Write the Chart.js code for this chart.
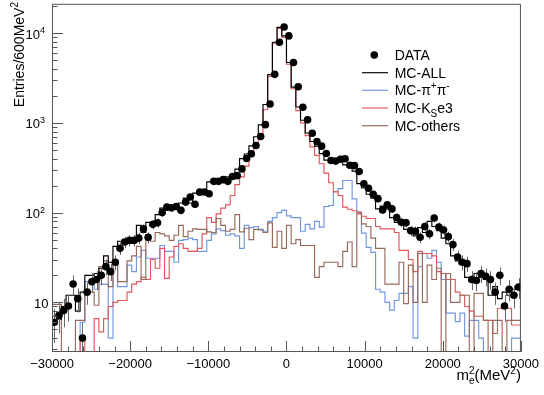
<!DOCTYPE html>
<html>
<head>
<meta charset="utf-8">
<script src="https://cdn.jsdelivr.net/npm/chart.js@4.4.1/dist/chart.umd.min.js"></script>
<style>
html, body { margin: 0; padding: 0; background: #fff; }
#c { display: block; }
</style>
</head>
<body>
<canvas id="c" width="544" height="395"></canvas>
<script>
// binning of the m_e^2 histogram: 100 bins of 600 MeV^2 from -30000 to 30000
var xLo = -30000, xHi = 30000, binW = 600, nBins = 100;

// entries per bin (left to right); 1 = below the axis
var dataVals = [
  6.0, 7.2, 8.1, 9.1, 16, 11, 4.0, 13, 17, 18,
  20, 25, 22, 28, 40, 47, 49, 49, 52, 66,
  53, 74, 77, 100, 115, 113, 117, 106, 131, 149,
  124, 169, 170, 162, 223, 223, 233, 223, 253, 258,
  307, 400, 452, 560, 705, 955, 1620, 3470, 7900, 11700,
  9300, 4700, 2520, 1490, 1080, 767, 620, 550, 455, 381,
  375, 393, 398, 337, 334, 287, 210, 187, 160, 143,
  107, 122, 110, 88, 78, 77, 63, 62, 53, 70,
  58, 87, 69, 64, 54, 44, 32, 28, 27, 18,
  17.5, 21, 19.5, 18, 13, 20, 9.1, 14, 12, 14.8
];
var mcAll = [
  7, 7, 6.5, 9, 12, 12, 8, 13, 20, 20,
  21, 24, 33, 28, 42, 48, 50, 50, 52, 72,
  60, 78, 78, 95, 112, 113, 115, 110, 128, 145,
  128, 165, 168, 165, 220, 222, 230, 225, 250, 262,
  305, 400, 450, 555, 700, 950, 1600, 3450, 7900, 11600,
  9300, 4700, 2500, 1500, 1070, 770, 620, 550, 455, 385,
  378, 395, 395, 340, 330, 290, 210, 188, 160, 145,
  110, 118, 110, 88, 78, 75, 65, 62, 55, 68,
  60, 80, 70, 63, 52, 45, 33, 29, 27, 19,
  18, 21, 19, 18, 12, 15, 11, 13, 12, 14
];
var mcPiPi = [
  4, 1, 1, 1, 1, 1, 1, 6, 17, 17,
  14, 16, 16, 4, 27, 15, 15, 26, 22, 32,
  38, 31, 31, 31, 43, 37, 37, 28, 49, 50,
  52, 50, 37, 37, 49, 58, 66, 63, 56, 58,
  55, 40, 72, 68, 70, 65, 62, 80, 88, 100,
  106, 92, 88, 88, 62, 74, 66, 80, 69, 117,
  120, 172, 185, 228, 228, 142, 102, 59, 41, 36,
  14, 13, 10, 8.2, 10.5, 12.6, 12.6, 15, 4, 25,
  35, 31, 38, 28, 18, 7.6, 7.6, 6.1, 7.6, 4.2,
  6.3, 6.3, 4, 1, 1, 1, 1, 1, 1, 4
];
var mcKse3 = [
  1, 1, 1, 1, 1, 1, 1, 3.8, 1, 1,
  6.6, 4.7, 6.6, 9, 10, 10.5, 10.5, 13, 16, 17,
  19, 18, 30, 24, 40, 18.5, 32, 42, 45, 40,
  37, 37, 40, 58, 88, 78, 97, 112, 122, 155,
  205, 250, 330, 420, 560, 760, 1400, 3300, 7700, 11300,
  9000, 4500, 2400, 1370, 1000, 720, 540, 435, 350, 275,
  215, 170, 155, 115, 109, 105, 100, 91, 86, 86,
  70, 66, 66, 66, 60, 38, 38, 30, 22, 37,
  35, 35, 33, 22, 21, 18, 18, 13, 12, 9,
  8, 7, 7, 6.3, 6.3, 4.5, 8.6, 9, 8.6, 5.6
];
var mcOthers = [
  5, 9.5, 9.5, 1, 1, 1, 6.3, 6.3, 13, 13,
  9.3, 25, 29, 15, 29, 17, 17, 29, 33, 42,
  18, 52, 48, 60, 58, 55, 49, 56, 72, 54,
  62, 66, 65, 65, 61, 60, 86, 72, 62, 65,
  95, 61, 67, 50, 65, 64, 60, 77, 41, 62,
  40, 72, 45, 50, 43, 43, 43, 19, 25, 28,
  28, 28, 25, 37, 47, 25, 97, 75, 70, 52,
  40, 40, 16, 16, 16, 28, 9.7, 26, 10, 35,
  10, 26, 18, 24, 1, 21, 10, 10, 12, 12,
  1, 12.6, 12.6, 6.3, 1, 6.3, 6.3, 1, 6.3, 6.3
];

var FONT = '"Liberation Sans", Arial, Helvetica, sans-serif';
Chart.defaults.font.family = FONT;

var colAll = '#000', colPiPi = '#7096e0', colKse3 = '#e0575e', colOthers = '#966a5a';

function binEdge(i) { return xLo + i * binW; }

// step histogram: one point per lower bin edge, plus the closing edge
function histPoints(vals) {
  var pts = vals.map(function(v, i) { return { x: binEdge(i), y: v }; });
  pts.push({ x: binEdge(nBins), y: vals[nBins - 1] });
  return pts;
}
var dataPts = dataVals.map(function(v, i) { return { x: binEdge(i) + binW / 2, y: v }; });

function histSet(label, vals, color) {
  return {
    label: label, data: histPoints(vals), borderColor: color, borderWidth: 1.15,
    stepped: 'after', pointRadius: 0, pointHitRadius: 0, fill: false, clip: 0
  };
}

// text with super/subscripts: parts = [{t, s:'sup'|'sub', stack}]
function rich(ctx, x, y, size, parts, align) {
  var sm = Math.round(size * 0.68);
  var total = 0;
  parts.forEach(function(p) {
    ctx.font = (p.s ? sm : size) + 'px ' + FONT;
    p.w = ctx.measureText(p.t).width;
    if (!p.stack) total += p.w;
  });
  var cx = align === 'right' ? x - total : x;
  ctx.textAlign = 'left';
  ctx.textBaseline = 'alphabetic';
  parts.forEach(function(p) {
    ctx.font = (p.s ? sm : size) + 'px ' + FONT;
    var dy = p.s === 'sup' ? -0.42 * size : (p.s === 'sub' ? 0.28 * size : 0);
    ctx.fillText(p.t, cx, y + dy);
    if (!p.stack) cx += p.w;
  });
}

function line(ctx, x1, y1, x2, y2) {
  ctx.beginPath(); ctx.moveTo(x1, y1); ctx.lineTo(x2, y2); ctx.stroke();
}

var rootStyle = {
  id: 'rootStyle',
  beforeDatasetDraw: function(chart, args) {
    if (args.index !== 0) return;
    // poisson error bars under the data markers
    var ctx = chart.ctx, a = chart.chartArea, xs = chart.scales.x, ys = chart.scales.y;
    ctx.save();
    ctx.beginPath(); ctx.rect(a.left, a.top, a.right - a.left, a.bottom - a.top); ctx.clip();
    ctx.strokeStyle = '#666'; ctx.lineWidth = 1;
    dataVals.forEach(function(v, i) {
      var e = Math.sqrt(v);
      var px = Math.round(xs.getPixelForValue(binEdge(i) + binW / 2)) + 0.5;
      var top = ys.getPixelForValue(v + e);
      var bot = v - e > 0 ? ys.getPixelForValue(v - e) : a.bottom;
      line(ctx, px, top, px, bot);
    });
    ctx.restore();
  },
  afterDraw: function(chart) {
    var ctx = chart.ctx, a = chart.chartArea, xs = chart.scales.x, ys = chart.scales.y;
    ctx.save();
    ctx.strokeStyle = '#555'; ctx.lineWidth = 1;
    ctx.strokeRect(a.left + 0.5, a.top + 0.5, a.right - a.left - 1, a.bottom - a.top - 1);

    // inner ticks, x axis
    for (var v = xLo; v <= xHi; v += 2000) {
      var px = Math.round(xs.getPixelForValue(v)) + 0.5;
      line(ctx, px, a.bottom, px, a.bottom - (v % 10000 === 0 ? 11 : 5.5));
    }
    // inner ticks, log y axis
    for (var k = 0; k <= 4; k++) {
      for (var m = 1; m <= 9; m++) {
        var val = m * Math.pow(10, k);
        if (val < ys.min || val > ys.max) continue;
        var py = Math.round(ys.getPixelForValue(val)) + 0.5;
        line(ctx, a.left, py, a.left + (m === 1 ? 11 : 5.5), py);
      }
    }

    // y labels 10, 10^2, 10^3, 10^4
    ctx.fillStyle = '#000';
    for (var e = 1; e <= 4; e++) {
      var yy = ys.getPixelForValue(Math.pow(10, e));
      if (e === 1) {
        rich(ctx, 48.5, yy + 5.5, 13, [{ t: '10' }], 'right');
      } else {
        rich(ctx, 45, yy + 5.5, 13, [{ t: '10' }, { t: String(e), s: 'sup' }], 'right');
      }
    }

    // axis titles
    rich(ctx, a.right, 380, 15, [
      { t: 'm' }, { t: '2', s: 'sup', stack: true }, { t: 'e', s: 'sub' },
      { t: '(MeV' }, { t: '2', s: 'sup' }, { t: ')' }
    ], 'right');
    ctx.save();
    ctx.translate(23.5, 2);
    ctx.rotate(-Math.PI / 2);
    rich(ctx, 0, 0, 14, [{ t: 'Entries/600MeV' }, { t: '2', s: 'sup' }], 'right');
    ctx.restore();

    // legend
    var lx = 394.7;
    ctx.beginPath(); ctx.arc(374.3, 55, 3.8, 0, Math.PI * 2); ctx.fill();
    rich(ctx, lx, 60, 14, [{ t: 'DATA' }], 'left');
    var rows = [
      { y: 72.7, c: colAll, parts: [{ t: 'MC-ALL' }] },
      { y: 90.3, c: colPiPi, parts: [{ t: 'MC-\u03c0' }, { t: '+', s: 'sup' }, { t: '\u03c0' }, { t: '-', s: 'sup' }] },
      { y: 108, c: colKse3, parts: [{ t: 'MC-K' }, { t: 'S', s: 'sub' }, { t: 'e3' }] },
      { y: 125.7, c: colOthers, parts: [{ t: 'MC-others' }] }
    ];
    rows.forEach(function(r) {
      ctx.strokeStyle = r.c; ctx.lineWidth = 1.15;
      line(ctx, 362, r.y, 388, r.y);
      ctx.fillStyle = '#000';
      rich(ctx, lx, r.y + 5, 14, r.parts, 'left');
    });
    ctx.restore();
  }
};

var ctxHist = document.getElementById('c').getContext('2d');
window.histChart = new Chart(ctxHist, {
  type: 'line',
  data: {
    datasets: [
      {
        type: 'scatter', label: 'DATA', data: dataPts, showLine: false,
        pointRadius: 3.8, pointHoverRadius: 3.8, pointBackgroundColor: '#000', pointBorderWidth: 0
      },
      histSet('MC-ALL', mcAll, colAll),
      histSet('MC-others', mcOthers, colOthers),
      histSet('MC-Kse3', mcKse3, colKse3),
      histSet('MC-pipi', mcPiPi, colPiPi)
    ]
  },
  options: {
    responsive: false,
    animation: false,
    devicePixelRatio: 1,
    layout: { padding: { top: 3, right: 22, left: 0, bottom: 0 } },
    plugins: { legend: { display: false }, tooltip: { enabled: false } },
    scales: {
      x: {
        type: 'linear', min: xLo, max: xHi,
        grid: { display: false, drawTicks: false },
        border: { display: false },
        ticks: {
          stepSize: 10000, color: '#000', font: { size: 13 }, padding: 5, maxRotation: 0,
          callback: function(v) { return String(v).replace('-', '\u2212'); }
        },
        afterFit: function(s) { s.height = 43; }
      },
      y: {
        type: 'logarithmic', min: 2.8, max: 21200,
        grid: { display: false, drawTicks: false },
        border: { display: false },
        ticks: { display: false },
        afterFit: function(s) { s.width = 52; }
      }
    }
  },
  plugins: [rootStyle]
});
</script>
</body>
</html>
